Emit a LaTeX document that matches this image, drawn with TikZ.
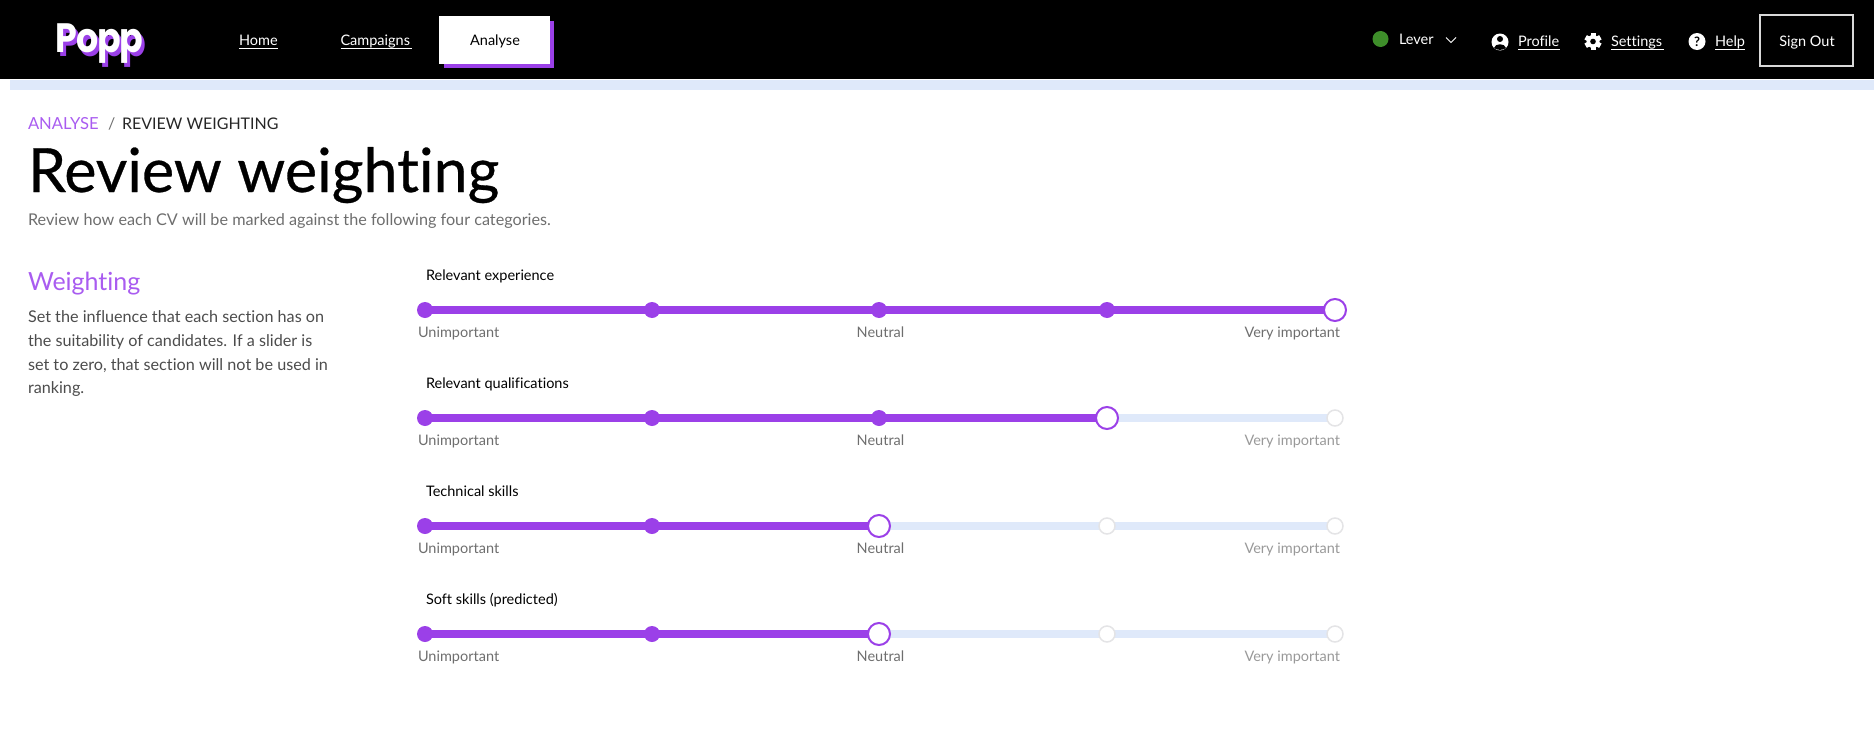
\documentclass[tikz,border=0pt]{standalone}
\usepackage{fontspec}
\usetikzlibrary{backgrounds}
\setmainfont{Lato}[Ligatures=NoCommon]
\newfontfamily\titlefont[FakeBold=0.5,Ligatures=NoCommon]{Lato}
\newfontfamily\logofont[BoldFont={Poppins Bold},BoldFeatures={FakeStretch=0.85,LetterSpace=-3}]{Poppins}
\definecolor{popp}{HTML}{9B40E8}
\definecolor{pale}{HTML}{DFE9FA}
\definecolor{crumb}{HTML}{A95CF0}
\definecolor{mutedtext}{HTML}{6E6E6E}
\definecolor{fainttext}{HTML}{999999}
\definecolor{ghost}{HTML}{E4E4E6}
\definecolor{leaf}{HTML}{3E8E2A}
\tikzset{
  txt/.style={inner sep=0pt,outer sep=0pt,anchor=base west,font=\fontsize{14.5}{17}\selectfont},
  nav/.style={txt,text=white,font=\fontsize{14.5}{17}\selectfont},
  bodytxt/.style={txt,text=black!70,font=\fontsize{16.2}{19}\selectfont},
  dot/.style={circle,fill=popp,minimum size=16pt,inner sep=0pt,outer sep=0pt},
  knob/.style={circle,draw=popp,line width=2pt,fill=white,minimum size=22pt,inner sep=0pt,outer sep=0pt},
  idle/.style={circle,draw=ghost,line width=1.5pt,fill=white,minimum size=16pt,inner sep=0pt,outer sep=0pt},
  on/.style={draw=popp,line width=8.5pt},
  off/.style={draw=pale,line width=8pt},
  uline/.style={draw=white,line width=1pt},
}
\newcommand{\sliderrow}[4]{% id, y, title, active stop (3,4,5)
  \foreach \i/\n/\x in {1/a/425,2/b/652,3/c/879,4/d/1107,5/e/1335}{
    \ifnum\i<#4\relax
      \node[dot] (#1\n) at (\x,#2+1) {};
    \else\ifnum\i=#4\relax
      \node[knob] (#1\n) at (\x,#2+1) {};
    \else
      \node[idle] (#1\n) at (\x,#2+1) {};
    \fi\fi
  }
  \node[txt,text=black] (#1t) at (426,#2-29) {#3};
  \node[txt,text=mutedtext] (#1u) at (418,#2+28) {Unimportant};
  \node[txt,text=mutedtext,anchor=base] (#1n) at (880.5,#2+28) {Neutral};
  \begin{pgfonlayer}{background}
  \ifnum#4=5\relax
    \draw[on] (#1a.center)--(#1b.center); \draw[on] (#1b.center)--(#1c.center); \draw[on] (#1c.center)--(#1d.center); \draw[on] (#1d.center)--(#1e.center);
  \else
    \ifnum#4=4\relax
      \draw[on] (#1a.center)--(#1b.center); \draw[on] (#1b.center)--(#1c.center); \draw[on] (#1c.center)--(#1d.center); \draw[off] (#1d.center)--(#1e.center);
    \else
      \draw[on] (#1a.center)--(#1b.center); \draw[on] (#1b.center)--(#1c.center); \draw[off] (#1c.center)--(#1d.center); \draw[off] (#1d.center)--(#1e.center);
    \fi
  \fi
  \end{pgfonlayer}
  \ifnum#4=5\relax
    \node[txt,text=mutedtext,anchor=base east] (#1v) at (1340,#2+28) {Very important};
  \else
    \node[txt,text=fainttext,anchor=base east] (#1v) at (1340,#2+28) {Very important};
  \fi
}
\begin{document}
\begin{tikzpicture}[x=1pt,y=-1pt]
\useasboundingbox (0,0) rectangle (1874,736);
% header
\fill[black] (0,0) rectangle (1874,79);
\fill[pale] (10,80) rectangle (1874,90);
% logo
\node[inner sep=0,anchor=base west,text=popp,font=\logofont\bfseries\fontsize{41}{44}\selectfont] (logob) at (58.5,56) {Popp};
\node[inner sep=0,anchor=base west,text=white,font=\logofont\bfseries\fontsize{41}{44}\selectfont] (logo) at (55.5,52) {Popp};
% nav
\node[nav] (home) at (239,45) {Home};
\draw[uline] (239,48)--(278,48);
\node[nav] (camp) at (340.5,45) {Campaigns};
\draw[uline] (340.5,48)--(412,48);
\fill[popp] (444,21) rectangle (554,68);
\fill[white] (439,16) rectangle (550,64);
\node[txt,text=black,anchor=base] (analyse) at (495,45) {Analyse};
% right menu
\fill[leaf] (1380.5,39) circle (8);
\node[nav] (lever) at (1399,44.5) {Lever};
\draw[white,line width=1pt] (1446,37.5)--(1451,42.5)--(1456,37.5);
\fill[white] (1500,42) circle (8.5);
\fill[black] (1500,39) circle (3);
\fill[black] (1494,48) .. controls (1495,43) and (1505,43) .. (1506,48) .. controls (1503,50.5) and (1497,50.5) .. (1494,48);
\node[nav] (profile) at (1518,46) {Profile};
\draw[uline] (1518,49)--(1560,49);
\foreach \a in {0,60,...,300}{\fill[white,rotate around={\a:(1593,41.5)}] (1590.5,33) rectangle (1595.5,36.5);}
\fill[white] (1593,41.5) circle (6.5);
\fill[black] (1593,41.5) circle (2.8);
\node[nav] (settings) at (1611,46) {Settings};
\draw[uline] (1611,49)--(1664,49);
\fill[white] (1697,41.5) circle (8.5);
\node[inner sep=0,text=black,font=\bfseries\fontsize{13}{13}\selectfont] (hq) at (1697,41.5) {?};
\node[nav] (help) at (1715,46) {Help};
\draw[uline] (1715,49)--(1745,49);
\draw[white!85!black,line width=2pt] (1760,15) rectangle (1853,66);
\node[nav,anchor=base] (out) at (1807,46) {Sign Out};
% headings
\node[txt,text=crumb,font=\fontsize{16.6}{18}\selectfont] (cr1) at (28,129) {ANALYSE};
\node[txt,text=mutedtext,font=\fontsize{16}{18}\selectfont] (cr2) at (108,129) {/};
\node[txt,text=black!85,font=\fontsize{16}{18}\selectfont] (cr3) at (122,129) {REVIEW WEIGHTING};
\node[txt,text=black,font=\titlefont\fontsize{61}{64}\selectfont] (title) at (28,192) {Review weighting};
\node[txt,text=mutedtext,font=\fontsize{16.2}{19}\selectfont] (sub) at (28,225) {Review how each CV will be marked against the following four categories.};
\node[txt,text=crumb,font=\fontsize{25}{28}\selectfont] (wt) at (28,290) {Weighting};
\node[bodytxt] (p1) at (28,322) {Set the influence that each section has on};
\node[bodytxt] (p2) at (28,346) {the suitability of candidates. If a slider is};
\node[bodytxt] (p3) at (28,370) {set to zero, that section will not be used in};
\node[bodytxt] (p4) at (28,393) {ranking.};
% sliders
\sliderrow{r}{309}{Relevant experience}{5}
\sliderrow{q}{417}{Relevant qualifications}{4}
\sliderrow{t}{525}{Technical skills}{3}
\sliderrow{s}{633}{Soft skills (predicted)}{3}
\end{tikzpicture}
\end{document}
